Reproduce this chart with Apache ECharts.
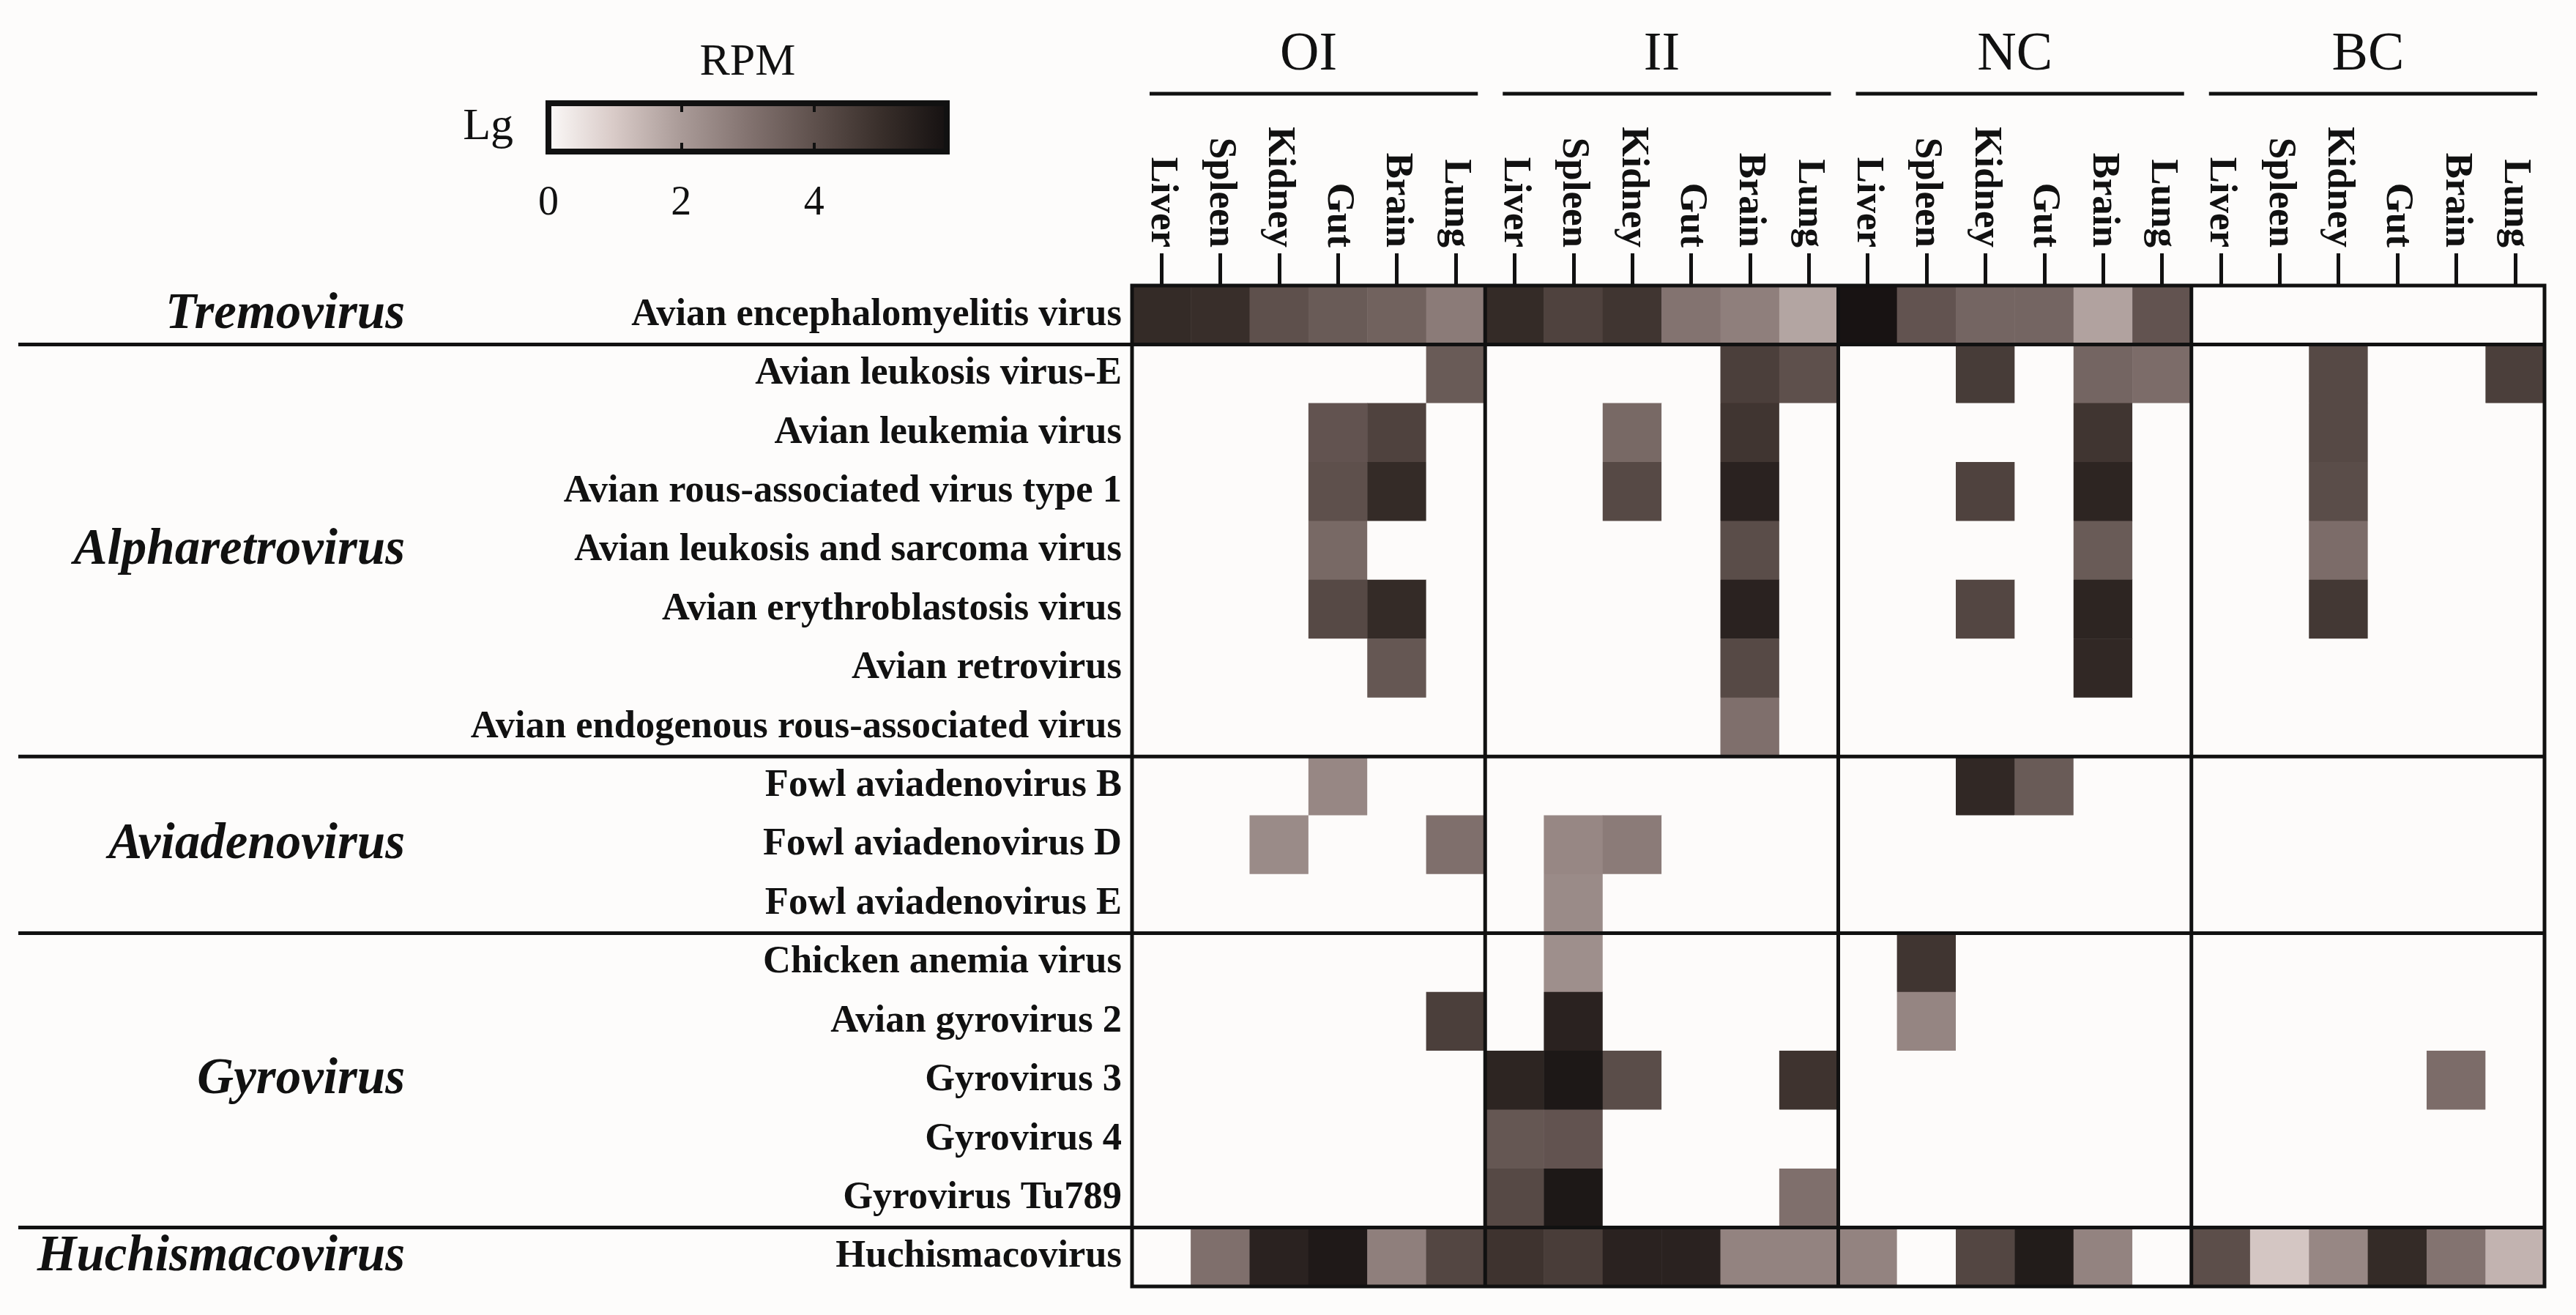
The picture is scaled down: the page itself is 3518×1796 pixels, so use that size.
<!DOCTYPE html>
<html>
<head>
<meta charset="utf-8">
<title>Virus RPM heatmap</title>
<script src="https://cdn.jsdelivr.net/npm/echarts@6/dist/echarts.min.js"></script>
<style>
  html, body { margin: 0; padding: 0; background: #fdfcfb; }
  #chart { width: 3518px; height: 1796px; }
</style>
</head>
<body>
<div id="chart"></div>
<script>
const groups = ['OI', 'II', 'NC', 'BC']
const tissues = ['Liver', 'Spleen', 'Kidney', 'Gut', 'Brain', 'Lung']
const viruses = [
  'Avian encephalomyelitis virus',
  'Avian leukosis virus-E',
  'Avian leukemia virus',
  'Avian rous-associated virus type 1',
  'Avian leukosis and sarcoma virus',
  'Avian erythroblastosis virus',
  'Avian retrovirus',
  'Avian endogenous rous-associated virus',
  'Fowl aviadenovirus B',
  'Fowl aviadenovirus D',
  'Fowl aviadenovirus E',
  'Chicken anemia virus',
  'Avian gyrovirus 2',
  'Gyrovirus 3',
  'Gyrovirus 4',
  'Gyrovirus Tu789',
  'Huchismacovirus'
]
const genera = ['Tremovirus', 'Alpharetrovirus', 'Aviadenovirus', 'Gyrovirus', 'Huchismacovirus']
const genusSizes = [1, 7, 3, 5, 1]

// lg(RPM), one row per virus, columns = tissues
const oiValues = [
  [5.1, 5.0, 4.0, 3.7, 3.5, 2.8],
  [0, 0, 0, 0, 0, 3.7],
  [0, 0, 0, 3.9, 4.4, 0],
  [0, 0, 0, 4.0, 5.1, 0],
  [0, 0, 0, 3.3, 0, 0],
  [0, 0, 0, 4.2, 5.1, 0],
  [0, 0, 0, 0, 3.8, 0],
  [0, 0, 0, 0, 0, 0],
  [0, 0, 0, 2.5, 0, 0],
  [0, 0, 2.4, 0, 0, 3.1],
  [0, 0, 0, 0, 0, 0],
  [0, 0, 0, 0, 0, 0],
  [0, 0, 0, 0, 0, 4.5],
  [0, 0, 0, 0, 0, 0],
  [0, 0, 0, 0, 0, 0],
  [0, 0, 0, 0, 0, 0],
  [0, 3.1, 5.4, 5.7, 2.7, 4.3]
]
const iiValues = [
  [5.1, 4.4, 4.8, 3.0, 2.7, 1.8],
  [0, 0, 0, 0, 4.5, 4.0],
  [0, 0, 3.3, 0, 4.8, 0],
  [0, 0, 4.2, 0, 5.4, 0],
  [0, 0, 0, 0, 4.1, 0],
  [0, 0, 0, 0, 5.4, 0],
  [0, 0, 0, 0, 4.2, 0],
  [0, 0, 0, 0, 3.1, 0],
  [0, 0, 0, 0, 0, 0],
  [0, 2.5, 2.8, 0, 0, 0],
  [0, 2.4, 0, 0, 0, 0],
  [0, 2.3, 0, 0, 0, 0],
  [0, 5.4, 0, 0, 0, 0],
  [5.3, 5.75, 4.1, 0, 0, 4.85],
  [3.8, 3.9, 0, 0, 0, 0],
  [4.2, 5.75, 0, 0, 0, 3.1],
  [4.85, 4.55, 5.4, 5.4, 2.6, 2.6]
]
const ncValues = [
  [5.9, 3.9, 3.4, 3.4, 1.85, 3.9],
  [0, 0, 4.6, 0, 3.4, 3.2],
  [0, 0, 0, 0, 4.8, 0],
  [0, 0, 4.4, 0, 5.3, 0],
  [0, 0, 0, 0, 3.7, 0],
  [0, 0, 4.3, 0, 5.3, 0],
  [0, 0, 0, 0, 5.2, 0],
  [0, 0, 0, 0, 0, 0],
  [0, 0, 5.2, 3.7, 0, 0],
  [0, 0, 0, 0, 0, 0],
  [0, 0, 0, 0, 0, 0],
  [0, 4.8, 0, 0, 0, 0],
  [0, 2.55, 0, 0, 0, 0],
  [0, 0, 0, 0, 0, 0],
  [0, 0, 0, 0, 0, 0],
  [0, 0, 0, 0, 0, 0],
  [2.6, 0, 4.3, 5.6, 2.6, 0]
]
const bcValues = [
  [0, 0, 0, 0, 0, 0],
  [0, 0, 4.2, 0, 0, 4.5],
  [0, 0, 4.2, 0, 0, 0],
  [0, 0, 4.1, 0, 0, 0],
  [0, 0, 3.2, 0, 0, 0],
  [0, 0, 4.7, 0, 0, 0],
  [0, 0, 0, 0, 0, 0],
  [0, 0, 0, 0, 0, 0],
  [0, 0, 0, 0, 0, 0],
  [0, 0, 0, 0, 0, 0],
  [0, 0, 0, 0, 0, 0],
  [0, 0, 0, 0, 0, 0],
  [0, 0, 0, 0, 0, 0],
  [0, 0, 0, 0, 3.2, 0],
  [0, 0, 0, 0, 0, 0],
  [0, 0, 0, 0, 0, 0],
  [4.05, 1.1, 2.5, 5.1, 3.0, 1.5]
]

const colorScale = ['#fdfbfa', '#d9cbc8', '#aa9b98', '#837370', '#5e504c', '#382e2a', '#141010']
const scaleMax = 6
const legendTicks = [0, 2, 4]

const serif = '"Liberation Serif", "Times New Roman", serif'
const ink = '#111'

const groupValues = [oiValues, iiValues, ncValues, bcValues]
const columns = []
groups.forEach(g => tissues.forEach(t => columns.push(g + '|' + t)))

const cells = []
groupValues.forEach((vals, gi) => {
  vals.forEach((row, ri) => {
    row.forEach((v, ti) => {
      cells.push([gi * tissues.length + ti, ri, v])
    })
  })
})

// genus label sits on the middle row of its block; dividers under each block
const genusAt = {}
const boundaries = []
let start = 0
genusSizes.forEach((n, i) => {
  genusAt[start + Math.floor(n / 2)] = genera[i]
  start += n
  if (start < viruses.length) boundaries.push(start)
})

const chart = echarts.init(document.getElementById('chart'))

chart.setOption({
  backgroundColor: '#fdfcfb',
  animation: false,
  textStyle: { fontFamily: serif, color: ink },
  grid: [
    { left: 1546, top: 390, width: 1929, height: 1367 },
    { left: 749, top: 141, width: 544, height: 66 }
  ],
  xAxis: [
    {
      type: 'category',
      gridIndex: 0,
      position: 'top',
      data: columns,
      axisLine: { show: false },
      axisTick: { show: true, alignWithLabel: true, interval: 0, length: 44, lineStyle: { color: ink, width: 5 } },
      axisLabel: {
        interval: 0,
        rotate: 90,
        margin: 52,
        fontSize: 53,
        fontWeight: 'bold',
        fontFamily: serif,
        color: ink,
        formatter: v => v.split('|')[1]
      },
      splitLine: { show: false }
    },
    {
      type: 'value',
      gridIndex: 1,
      position: 'bottom',
      min: 0,
      max: scaleMax,
      interval: 2,
      z: 10,
      axisLine: { show: false },
      axisTick: { show: true, inside: true, length: 12, lineStyle: { color: ink, width: 4 } },
      axisLabel: {
        margin: 43,
        fontSize: 56,
        fontFamily: serif,
        color: ink,
        showMaxLabel: false,
        formatter: v => (legendTicks.includes(v) ? String(v) : '')
      },
      splitLine: { show: false }
    },
    {
      type: 'value',
      gridIndex: 1,
      position: 'top',
      min: 0,
      max: scaleMax,
      interval: 2,
      z: 10,
      name: 'RPM',
      nameLocation: 'middle',
      nameGap: 24,
      nameTextStyle: { fontSize: 62, fontFamily: serif, color: ink },
      axisLine: { show: false },
      axisTick: { show: true, inside: true, length: 12, lineStyle: { color: ink, width: 4 } },
      axisLabel: { show: false },
      splitLine: { show: false }
    }
  ],
  yAxis: [
    {
      type: 'category',
      gridIndex: 0,
      data: viruses,
      inverse: true,
      axisLine: { show: false },
      axisTick: { show: false },
      axisLabel: { interval: 0, margin: 14, fontSize: 52.5, fontWeight: 'bold', fontFamily: serif, color: ink },
      splitLine: { show: false }
    },
    {
      type: 'category',
      gridIndex: 0,
      position: 'left',
      data: viruses,
      inverse: true,
      axisLine: { show: false },
      axisTick: { show: false },
      axisLabel: {
        interval: 0,
        margin: 993,
        fontSize: 69,
        fontWeight: 'bold',
        fontStyle: 'italic',
        fontFamily: serif,
        color: ink,
        formatter: (v, i) => genusAt[i] || ''
      },
      splitLine: { show: false }
    },
    {
      type: 'value',
      gridIndex: 1,
      min: 0,
      max: 1,
      name: 'Lg',
      nameLocation: 'middle',
      nameRotate: 0,
      nameGap: 48,
      nameTextStyle: { fontSize: 62, fontFamily: serif, color: ink, align: 'right', padding: [14, 0, 0, 0] },
      axisLine: { show: false },
      axisTick: { show: false },
      axisLabel: { show: false },
      splitLine: { show: false }
    }
  ],
  visualMap: {
    type: 'continuous',
    show: false,
    seriesIndex: 0,
    dimension: 2,
    min: 0,
    max: scaleMax,
    inRange: { color: colorScale }
  },
  series: [
    {
      type: 'heatmap',
      xAxisIndex: 0,
      yAxisIndex: 0,
      data: cells,
      itemStyle: { borderWidth: 0 },
      emphasis: { disabled: true },
      progressive: 0
    },
    {
      // frame, block dividers and group headers
      type: 'custom',
      xAxisIndex: 0,
      yAxisIndex: 0,
      z: 5,
      silent: true,
      data: [[0, 0]],
      renderItem(params, api) {
        const cs = params.coordSys
        const cellW = api.size([1, 0])[0]
        const cellH = api.size([0, 1])[1]
        const line = { stroke: ink, lineWidth: 5 }
        const children = []
        children.push({
          type: 'rect',
          shape: { x: cs.x, y: cs.y, width: cs.width, height: cs.height },
          style: { fill: null, stroke: ink, lineWidth: 5 }
        })
        for (let g = 1; g < groups.length; g++) {
          const x = api.coord([g * tissues.length, 0])[0] - cellW / 2
          children.push({ type: 'line', shape: { x1: x, y1: cs.y, x2: x, y2: cs.y + cs.height }, style: line })
        }
        boundaries.forEach(b => {
          const y = api.coord([0, b])[1] - cellH / 2
          children.push({ type: 'line', shape: { x1: 25, y1: y, x2: cs.x + cs.width, y2: y }, style: line })
        })
        groups.forEach((name, g) => {
          const x0 = api.coord([g * tissues.length, 0])[0] - cellW / 2
          const x1 = api.coord([g * tissues.length + tissues.length - 1, 0])[0] + cellW / 2
          children.push({
            type: 'line',
            shape: { x1: x0 + 24, y1: cs.y - 262, x2: x1 - 10, y2: cs.y - 262 },
            style: line
          })
          children.push({
            type: 'text',
            x: (x0 + x1) / 2,
            y: cs.y - 314,
            style: {
              text: name,
              align: 'center',
              verticalAlign: 'middle',
              fontSize: 74,
              fontFamily: serif,
              fill: ink
            }
          })
        })
        return { type: 'group', children }
      }
    },
    {
      // colour bar
      type: 'custom',
      xAxisIndex: 1,
      yAxisIndex: 2,
      z: 2,
      silent: true,
      data: [[0, 0]],
      renderItem(params, api) {
        const p0 = api.coord([0, 0])
        const p1 = api.coord([scaleMax, 1])
        const stops = colorScale.map((c, i) => ({ offset: i / (colorScale.length - 1), color: c }))
        return {
          type: 'rect',
          shape: { x: p0[0], y: p1[1], width: p1[0] - p0[0], height: p0[1] - p1[1] },
          style: {
            fill: new echarts.graphic.LinearGradient(0, 0, 1, 0, stops),
            stroke: ink,
            lineWidth: 8
          }
        }
      }
    }
  ]
})
</script>
</body>
</html>
